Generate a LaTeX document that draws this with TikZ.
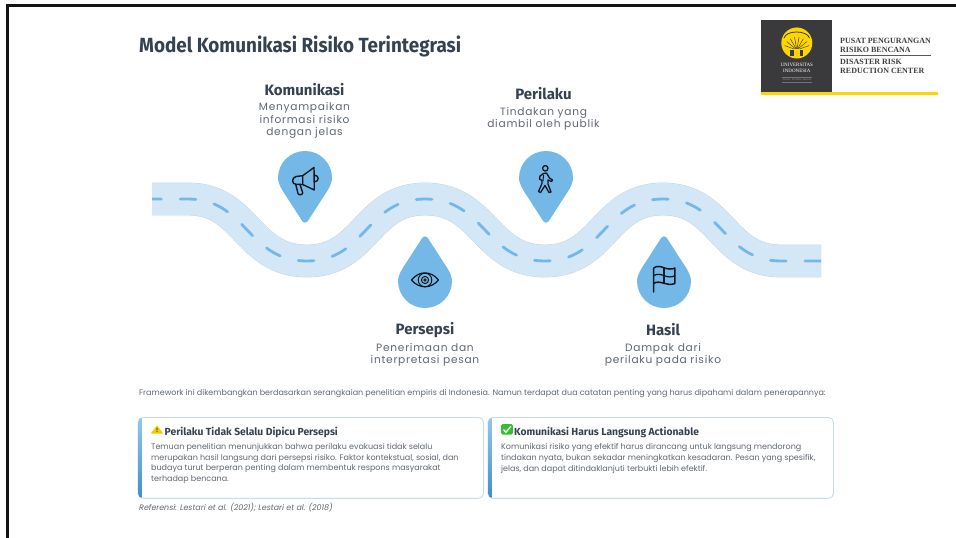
\documentclass[tikz,border=0pt]{standalone}
\usepackage{fontspec}
\setmainfont{Poppins}
\newfontfamily\headfont{Fira Sans}[UprightFont=* Medium,BoldFont=* Bold]
\newfontfamily\titlefont{Fira Sans}[UprightFont=* Bold,FakeStretch=0.92]
\newfontfamily\logofont{Liberation Serif}
\definecolor{inkdark}{HTML}{36424F}
\definecolor{inkbody}{HTML}{5F6872}
\definecolor{pinblue}{HTML}{74B8E7}
\definecolor{roadblue}{HTML}{D3E7F7}
\definecolor{roadedge}{HTML}{C3D3DF}
\definecolor{cardedge}{HTML}{C6DCEC}
\definecolor{accenttop}{HTML}{90C8EF}
\definecolor{accentbot}{HTML}{3F8FCB}
\definecolor{logodark}{HTML}{3A3A3C}
\definecolor{logoyellow}{HTML}{FFD500}
\definecolor{iconink}{HTML}{10181F}
\definecolor{warnyellow}{HTML}{F8C800}
\definecolor{okgreen}{HTML}{35BE35}
\tikzset{
 headtext/.style={font=\headfont\bfseries\fontsize{15}{17}\selectfont,text=inkdark,anchor=center,inner sep=0},
 subtext/.style={font=\fontsize{10.6}{12.6}\selectfont\addfontfeatures{LetterSpace=7},text=inkbody,align=center,anchor=center,inner sep=0},
 cardtitle/.style={font=\headfont\bfseries\fontsize{10.3}{12}\selectfont,text=inkdark,anchor=west,inner sep=0},
 cardbody/.style={font=\fontsize{8}{10.75}\selectfont,text=inkbody,anchor=north west,align=left,inner sep=0},
 logotext/.style={font=\logofont\bfseries\fontsize{8}{8.8}\selectfont,text=black!75,anchor=west,align=left,inner sep=0},
 iconline/.style={draw=iconink,line width=1.4pt,line join=round,line cap=round},
 pinshape/.pic={\fill[pinblue] (-2.5,43.5) .. controls (-1.5,45) and (1.5,45) .. (2.5,43.5) -- (17,21) .. controls (20.5,15.6) and (27,7) .. (27,0) .. controls (27,-15) and (15,-27) .. (0,-27) .. controls (-15,-27) and (-27,-15) .. (-27,0) .. controls (-27,7) and (-20.5,15.6) .. (-17,21) -- cycle;},
}
\begin{document}
\begin{tikzpicture}[x=1pt,y=-1pt]
\useasboundingbox (0,0) rectangle (956,538);
\fill[white] (0,0) rectangle (956,538);
\fill[black!92] (6,4) rectangle (956,7);
\fill[black!92] (6,4) rectangle (8.7,538);
% title
\node[font=\titlefont\fontsize{20.5}{24}\selectfont,text=inkdark,anchor=west,inner sep=0] (title) at (139,46) {Model Komunikasi Risiko Terintegrasi};
% logo
\fill[logodark] (761,20) rectangle (832,92);
\fill[logoyellow] (761,92) rectangle (938,95.3);
\fill[logoyellow] (797,33) circle (5.5);
\fill[logoyellow] (796.8,43) circle (15.5);
\foreach \a in {20,40,...,160} {\draw[logodark,line width=0.45pt] (796.8,50) -- ++({13*cos(\a)},{-13*sin(\a)});}
\draw[logodark,line width=0.8pt] (784,38) .. controls (786,30) and (807,30) .. (809.5,38);
\fill[logodark] (790,50) rectangle (803,56);
\fill[logoyellow] (794,49) rectangle (799.5,58);
\node[font=\logofont\fontsize{5}{6.4}\selectfont,text=white,align=center,inner sep=0] (logoua) at (796.8,68) {UNIVERSITAS\\INDONESIA};
\node[font=\logofont\fontsize{2.9}{3}\selectfont,text=white!55!black,inner sep=0] (logomotto) at (796.8,80) {Veritas, Probitas, Iustitia};
\draw[white!45!black,line width=0.3pt] (782,77.5) -- (811.5,77.5);
\draw[white!45!black,line width=0.3pt] (782,82.5) -- (811.5,82.5);
\node[logotext] (logoa) at (840,45) {PUSAT PENGURANGAN\\RISIKO BENCANA};
\draw[black!65,line width=0.9pt] (840,55.8) -- (931,55.8);
\node[logotext] (logob) at (840,66.7) {DISASTER RISK\\REDUCTION CENTER};
% road
\path[save path=\roadpath] (152,199) -- (188,199) .. controls (247,199) and (247,261) .. (307,261) .. controls (366,261) and (366,199) .. (425,199) .. controls (485,199) and (485,261) .. (545,261) .. controls (604,261) and (604,199) .. (663,199) .. controls (722,199) and (722,261) .. (781,261) -- (821,261);
\draw[roadedge,line width=32.8pt,use path=\roadpath];
\draw[roadblue,line width=32pt,use path=\roadpath];
\begin{scope}
\clip (152,170) rectangle (821,290);
\draw[pinblue,line width=2.8pt,line cap=round,dash pattern=on 15.7pt off 18.8pt] (145.65,199) -- (188,199) .. controls (247,199) and (247,261) .. (307,261) .. controls (366,261) and (366,199) .. (425,199) .. controls (485,199) and (485,261) .. (545,261) .. controls (604,261) and (604,199) .. (663,199) .. controls (722,199) and (722,261) .. (781,261) -- (830,261);
\end{scope}
% pins
\pic at (305,178) {pinshape};
\pic at (546,178) {pinshape};
\pic[yscale=-1] at (425,281) {pinshape};
\pic[yscale=-1] at (664,281) {pinshape};
% megaphone
\draw[iconline] (302.7,175.7) -- (314,167.5) -- (314.3,190) -- (302.7,184.5) -- cycle;
\draw[iconline] (302.7,175.7) -- (296,176.5) .. controls (291.5,177.5) and (291.5,184.5) .. (296,184.3) -- (302.7,184.5);
\draw[iconline] (314.2,175) .. controls (319.5,175.5) and (319.5,181.5) .. (314.3,182);
\draw[iconline] (295.7,184.3) -- (298,193.5) .. controls (298.5,195.5) and (303,195) .. (302.7,192.8) -- (300,184.4);
% eye
\draw[iconline,line width=1.2pt] (411.5,280) .. controls (419,270.5) and (431,270.5) .. (438.5,280) .. controls (431,289) and (419,289) .. (411.5,280) -- cycle;
\draw[iconline,line width=1pt] (425,280) circle (6.8);
\draw[iconline,line width=1pt] (425,280) circle (3.6);
\draw[iconline,line width=0.9pt] (425,280) circle (1.2);
% walker
\draw[iconline,line width=1.3pt] (545.3,168.3) circle (2.7);
\draw[iconline,line width=1.3pt] (543.5,173.5) -- (546.5,173) -- (549.5,178) -- (552.5,180) -- (551.5,181.5) -- (548,180) -- (548,184) -- (551,192) -- (549,192.5) -- (545,185.5) -- (540.5,192.5) -- (538.5,191.5) -- (542,183.5) -- (542,180.5) -- (539.5,179) -- (540,176) -- cycle;
\draw[iconline,line width=1pt] (543.5,175) -- (543,181);
% flag
\draw[iconline,line width=1.5pt] (653.7,292) -- (653.7,268) .. controls (657,265.5) and (661,266.5) .. (664,267.8) .. controls (668,269.3) and (672,269.5) .. (674.8,268) -- (674.8,283.5) .. controls (671,285) and (667.5,284.5) .. (664,283.3) .. controls (660,282) and (656.5,281.5) .. (653.7,283.5);
\draw[iconline,line width=1.2pt] (653.7,275.7) .. controls (657,273.5) and (660.5,274.3) .. (664,275.6) .. controls (668,277.2) and (671.5,277.5) .. (674.8,275.7);
\draw[iconline,line width=1.2pt] (664,267.8) -- (664,283.3);
% labels
\node[headtext] (h1) at (304.5,90) {Komunikasi};
\node[subtext] (s1) at (304.5,120.5) {Menyampaikan\\informasi risiko\\dengan jelas};
\node[headtext] (h3) at (543.5,94) {Perilaku};
\node[subtext] (s3) at (543.5,119) {Tindakan yang\\diambil oleh publik};
\node[headtext] (h2) at (425,330) {Persepsi};
\node[subtext] (s2) at (425,355) {Penerimaan dan\\interpretasi pesan};
\node[headtext] (h4) at (663,330) {Hasil};
\node[subtext] (s4) at (663,355) {Dampak dari\\perilaku pada risiko};
% intro
\node[font=\fontsize{8}{9}\selectfont,text=inkbody,anchor=west,inner sep=0] (intro) at (139,393.3) {Framework ini dikembangkan berdasarkan serangkaian penelitian empiris di Indonesia. Namun terdapat dua catatan penting yang harus dipahami dalam penerapannya:};
% cards
\draw[cardedge,fill=white,line width=0.9pt,rounded corners=5pt] (138,417.5) rectangle (483.5,498.3);
\draw[cardedge,fill=white,line width=0.9pt,rounded corners=5pt] (488,417.5) rectangle (833.5,498.3);
\begin{scope}
\clip[rounded corners=5pt] (138,417.5) rectangle (200,498.3);
\shade[top color=accenttop,bottom color=accentbot] (138,417.5) rectangle (141.7,498.3);
\end{scope}
\begin{scope}
\clip[rounded corners=5pt] (488,417.5) rectangle (550,498.3);
\shade[top color=accenttop,bottom color=accentbot] (488,417.5) rectangle (491.7,498.3);
\end{scope}
\fill[warnyellow,draw=warnyellow,line width=0.8pt,line join=round] (151.5,433.2) -- (157,426) -- (162.5,433.2) -- cycle;
\node[font=\headfont\bfseries\fontsize{6}{6}\selectfont,text=black!80,inner sep=0] (warnm) at (157,430.3) {!};
\node[cardtitle] (c1) at (164.5,432.5) {Perilaku Tidak Selalu Dipicu Persepsi};
\node[cardbody] (b1) at (151,443.2) {Temuan penelitian menunjukkan bahwa perilaku evakuasi tidak selalu\\merupakan hasil langsung dari persepsi risiko. Faktor kontekstual, sosial, dan\\budaya turut berperan penting dalam membentuk respons masyarakat\\terhadap bencana.};
\fill[okgreen,rounded corners=1.5pt] (501,424) rectangle (512.8,434.5);
\draw[white,line width=1.3pt] (503.5,429.5) -- (506,432.3) -- (510.8,426.3);
\node[cardtitle] (c2) at (514,432.5) {Komunikasi Harus Langsung Actionable};
\node[cardbody] (b2) at (501,443.2) {Komunikasi risiko yang efektif harus dirancang untuk langsung mendorong\\tindakan nyata, bukan sekadar meningkatkan kesadaran. Pesan yang spesifik,\\jelas, dan dapat ditindaklanjuti terbukti lebih efektif.};
\node[font=\fontsize{7.9}{9}\selectfont\itshape,text=inkbody,anchor=west,inner sep=0] (ref) at (139,508) {Referensi: Lestari et al. (2021); Lestari et al. (2018)};
\end{tikzpicture}
\end{document}
